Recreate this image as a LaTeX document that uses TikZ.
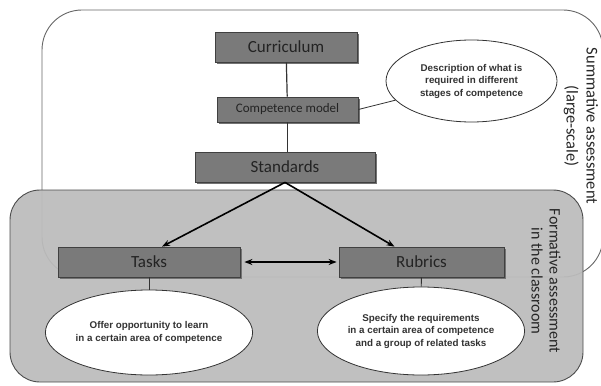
\documentclass[tikz,border=0pt]{standalone}
\usepackage{fontspec}
\setmainfont{Carlito}
\newfontfamily\ellfont{Liberation Sans}
\usetikzlibrary{shapes.geometric,shadows,arrows.meta}
\definecolor{boxfill}{RGB}{122,122,122}
\definecolor{boxtext}{RGB}{35,35,35}
\definecolor{formfill}{RGB}{188,188,188}
\tikzset{
  gbox/.style={draw=black!75, fill=boxfill, text=boxtext, line width=0.8pt,
    drop shadow={shadow xshift=2pt, shadow yshift=-2pt, fill=black!55, opacity=1},
    inner sep=0pt},
  ell/.style={ellipse, draw=black!80, fill=white, line width=0.8pt, align=center,
    font=\ellfont\bfseries\fontsize{9.8}{12.5}\selectfont, inner sep=0pt, text=black!80},
  link/.style={draw=black!80, line width=0.8pt},
  arr/.style={draw=black, line width=1.6pt, -{Stealth[length=8pt,width=6pt]}},
  sidelabel/.style={rotate=-90, align=center, text=black!85}
}
\begin{document}
\begin{tikzpicture}[x=1pt,y=-1pt]
\useasboundingbox (0,0) rectangle (601,385);
% summative region
\draw[black!60, line width=0.9pt, rounded corners=40pt] (42,10) rectangle (603,277);
% formative region
\draw[black!70, fill=formfill, fill opacity=0.94, line width=0.9pt, rounded corners=30pt] (10,190) rectangle (583,382);
% side labels
\node[sidelabel, font=\fontsize{16.5}{20}\selectfont] (sum) at (581,126) {Summative assessment\\(large-scale)};
\node[sidelabel, font=\fontsize{16}{18}\selectfont] (form) at (546,281) {Formative assessment\\in the classroom};
% boxes
\node[gbox, minimum width=142pt, minimum height=30pt, font=\fontsize{17}{20}\selectfont] (cur) at (286,47) {Curriculum};
\node[gbox, minimum width=141pt, minimum height=25pt, font=\fontsize{13}{15}\selectfont] (comp) at (287.5,109.5) {Competence model};
\node[gbox, minimum width=180pt, minimum height=30pt, font=\fontsize{17}{20}\selectfont] (std) at (285,167) {Standards};
\node[gbox, minimum width=182pt, minimum height=30pt, font=\fontsize{17}{20}\selectfont] (tasks) at (149,262) {Tasks};
\node[gbox, minimum width=165pt, minimum height=30pt, font=\fontsize{17}{20}\selectfont] (rub) at (421.5,262) {Rubrics};
% ellipses
\node[ell, minimum width=171pt, minimum height=82pt] (desc) at (471.5,81) {Description of what is\\required in different\\stages of competence};
\node[ell, minimum width=172pt, minimum height=85pt] (offer) at (149,332.5) {Offer opportunity to learn\\in a certain area of competence};
\node[ell, minimum width=168pt, minimum height=88pt] (spec) at (421,331) {Specify the requirements\\in a certain area of competence\\and a group of related tasks};
% connectors
\draw[link, line width=1.2pt] (cur) -- (comp);
\draw[link, line width=1.2pt] (comp) -- (std.north -| comp);
\draw[link] (comp.east) -- (desc);
\draw[link] (tasks) -- (offer);
\draw[link] (rub) -- (spec);
\draw[arr] (std.south) -- ([xshift=13pt]tasks.north);
\draw[arr] (std.south) -- ([xshift=-27pt]rub.north);
\draw[arr, {Stealth[length=8pt,width=6pt]}-{Stealth[length=8pt,width=6pt]}] ([xshift=4pt]tasks.east) -- ([xshift=-2pt]rub.west);
\end{tikzpicture}
\end{document}
